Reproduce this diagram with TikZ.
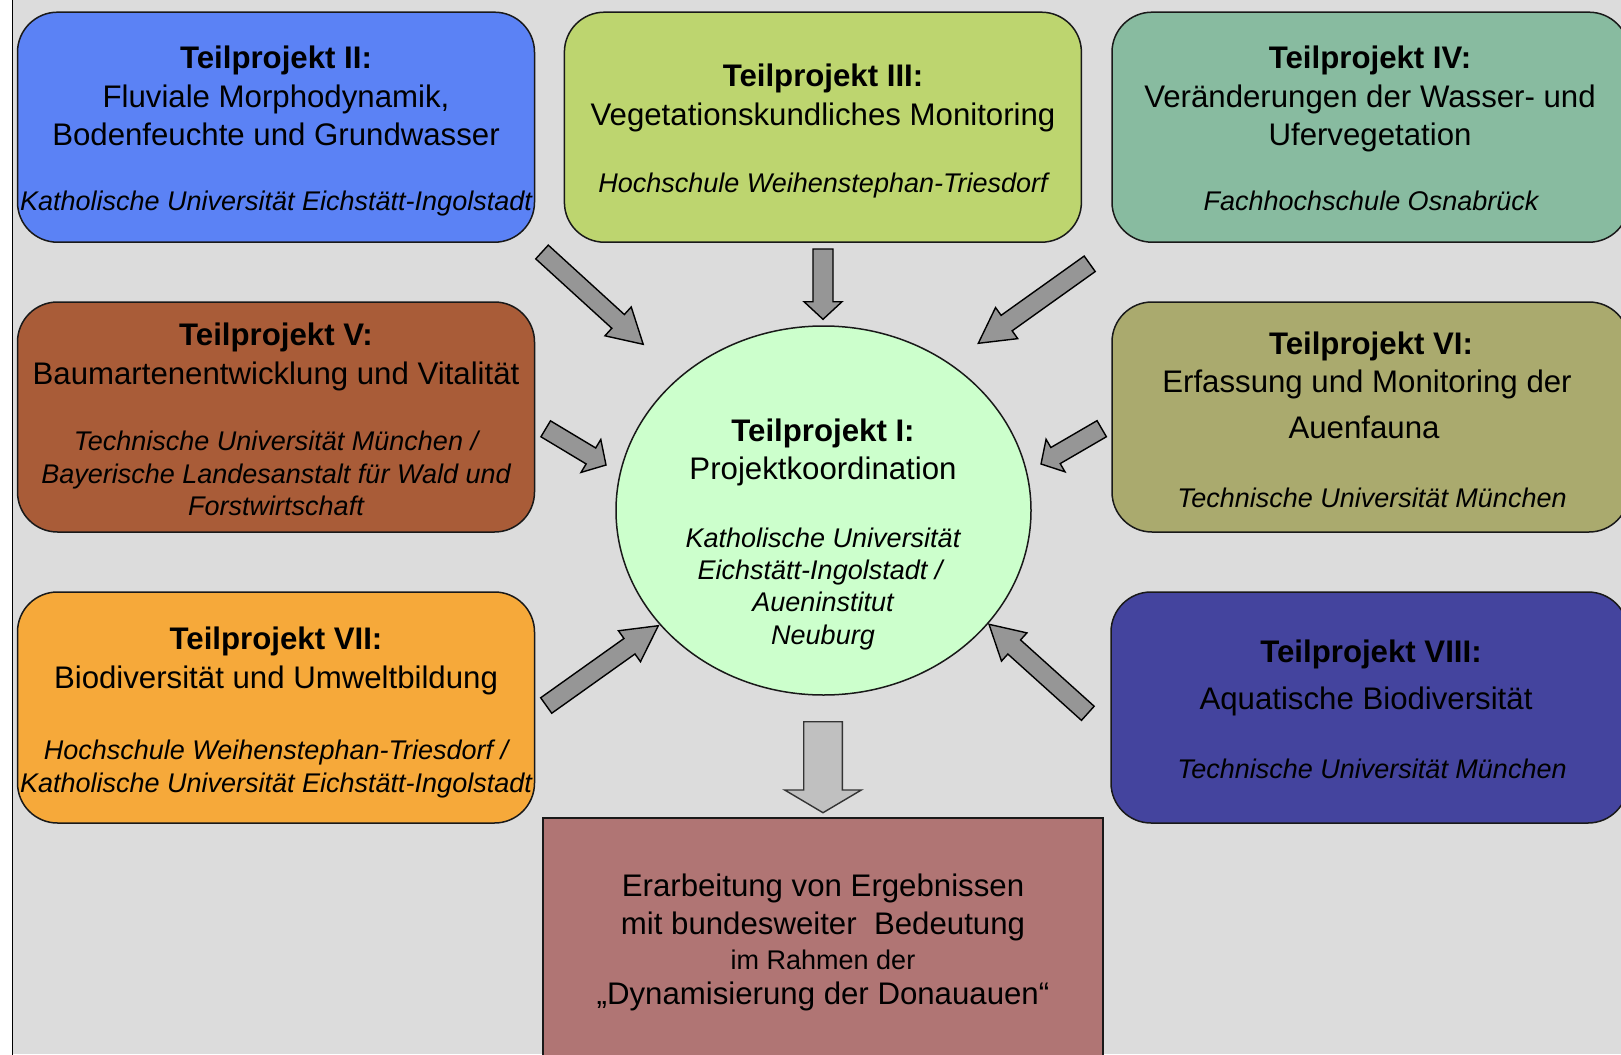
\documentclass[tikz,border=0pt]{standalone}
\usepackage{fontspec}
\setmainfont{Liberation Sans}
\usetikzlibrary{shapes.geometric,calc}
\definecolor{bgc}{RGB}{220,220,220}
\definecolor{cII}{RGB}{91,130,245}
\definecolor{cIII}{RGB}{189,213,111}
\definecolor{cIV}{RGB}{136,187,160}
\definecolor{cV}{RGB}{169,92,56}
\definecolor{cVI}{RGB}{170,170,110}
\definecolor{cVII}{RGB}{246,169,58}
\definecolor{cVIII}{RGB}{68,68,158}
\definecolor{cI}{RGB}{204,255,204}
\definecolor{cRes}{RGB}{176,117,116}
\definecolor{arrg}{RGB}{150,150,150}
\definecolor{arrl}{RGB}{192,192,192}
\tikzset{
  proj/.style={draw=black!90, line width=1.5pt, rounded corners=40pt,
    minimum width=517pt, minimum height=230pt, inner sep=0pt},
  ttl/.style={font=\bfseries\fontsize{31.2}{37}\selectfont, anchor=base, inner sep=0pt},
  txt/.style={font=\fontsize{31.2}{37}\selectfont, anchor=base, inner sep=0pt},
  itl/.style={font=\itshape\fontsize{27}{32}\selectfont, anchor=base, inner sep=0pt},
  sml/.style={font=\fontsize{27}{32}\selectfont, anchor=base, inner sep=0pt},
  barrow/.style={draw=black, line width=1.4pt, fill=arrg, line join=miter},
  larrow/.style={draw=black!80, line width=1.4pt, fill=arrl, line join=miter}
}
% #1 tail, #2 tip, #3 shaft half width, #4 head half width, #5 head length, #6 style
\newcommand\blockarr[6]{%
  \coordinate (nk) at ($(#2)!#5!(#1)$);
  \draw[#6] ($(#1)!#3!90:(#2)$) -- ($(nk)!#3!90:(#2)$) -- ($(nk)!#4!90:(#2)$)
    -- (#2) -- ($(nk)!#4!-90:(#2)$) -- ($(nk)!#3!-90:(#2)$)
    -- ($(#1)!#3!-90:(#2)$) -- cycle;
}
\begin{document}
\begin{tikzpicture}[x=1pt,y=-1pt]
\useasboundingbox (0,0) rectangle (1621,1054);
\clip (0,0) rectangle (1621,1054);
\fill[white] (0,0) rectangle (1621,1054);
\fill[bgc] (12.5,0) rectangle (1621,1054);
\draw[line width=1.8pt] (12.5,-5) -- (12.5,1060);

% boxes
\node[proj, fill=cII]   (p2) at (276,127.2) {};
\node[proj, fill=cIII]  (p3) at (822.9,127.2) {};
\node[proj, fill=cIV]   (p4) at (1370.5,127.2) {};
\node[proj, fill=cV]    (p5) at (276,417) {};
\node[proj, fill=cVI]   (p6) at (1370.5,417) {};
\node[proj, fill=cVII, minimum height=231pt]  (p7) at (276,707.5) {};
\node[proj, fill=cVIII, minimum height=231pt] (p8) at (1369.5,707.5) {};
\node[draw=black!90, line width=1.5pt, fill=cI, ellipse, minimum width=415pt,
      minimum height=369pt, inner sep=0pt] (p1) at (823.5,510.5) {};
\node[draw=black!90, line width=1.5pt, fill=cRes, rectangle, minimum width=560pt,
      minimum height=252pt, inner sep=0pt] (res) at (823,944) {};

% texts box II
\node[ttl] (t2a) at (276,69) {Teilprojekt II:};
\node[txt] (t2b) at (276,107) {Fluviale Morphodynamik,};
\node[txt] (t2c) at (276,145) {Bodenfeuchte und Grundwasser};
\node[itl] (t2d) at (276,210) {Katholische Universität Eichstätt-Ingolstadt};
% box III
\node[ttl] (t3a) at (823,87) {Teilprojekt III:};
\node[txt] (t3b) at (823,125.5) {Vegetationskundliches Monitoring};
\node[itl] (t3c) at (823,192.5) {Hochschule Weihenstephan-Triesdorf};
% box IV
\node[ttl] (t4a) at (1370,69) {Teilprojekt IV:};
\node[txt] (t4b) at (1370,107) {Veränderungen der Wasser- und};
\node[txt] (t4c) at (1370,145) {Ufervegetation};
\node[itl] (t4d) at (1371,210) {Fachhochschule Osnabrück};
% box V
\node[ttl] (t5a) at (276,345.5) {Teilprojekt V:};
\node[txt] (t5b) at (276,384) {Baumartenentwicklung und Vitalität};
\node[itl] (t5c) at (276,450.5) {Technische Universität München /};
\node[itl] (t5d) at (276,483) {Bayerische Landesanstalt für Wald und};
\node[itl] (t5e) at (276,515) {Forstwirtschaft};
% box VI
\node[ttl] (t6a) at (1371,354.5) {Teilprojekt VI:};
\node[txt] (t6b) at (1367,392.5) {Erfassung und Monitoring der};
\node[txt] (t6c) at (1364,438) {Auenfauna};
\node[itl] (t6d) at (1372,507) {Technische Universität München};
% box VII
\node[ttl] (t7a) at (276,649.5) {Teilprojekt VII:};
\node[txt] (t7b) at (276,688) {Biodiversität und Umweltbildung};
\node[itl] (t7c) at (276,759.5) {Hochschule Weihenstephan-Triesdorf /};
\node[itl] (t7d) at (276,792) {Katholische Universität Eichstätt-Ingolstadt};
% box VIII
\node[ttl] (t8a) at (1371,662.5) {Teilprojekt VIII:};
\node[txt] (t8b) at (1366,709) {Aquatische Biodiversität};
\node[itl] (t8c) at (1372,778) {Technische Universität München};
% ellipse
\node[ttl] (t1a) at (823,441.5) {Teilprojekt I:};
\node[txt] (t1b) at (823,479.5) {Projektkoordination};
\node[itl] (t1c) at (823,547) {Katholische Universität};
\node[itl] (t1d) at (820,579.8) {Eichstätt-Ingolstadt /};
\node[itl] (t1e) at (823,611.5) {Aueninstitut};
\node[itl] (t1f) at (823,644.5) {Neuburg};
% result box
\node[txt] (tra) at (823,896.5) {Erarbeitung von Ergebnissen};
\node[txt] (trb) at (823,934.5) {mit bundesweiter\ \ Bedeutung};
\node[sml] (trc) at (823,969) {im Rahmen der};
\node[txt] (trd) at (823,1004) {„Dynamisierung der Donauauen“};

% arrow end points
\coordinate (a2s) at (542,252);     \coordinate (a2e) at (643.2,344.3);
\coordinate (a3s) at (823,249);     \coordinate (a3e) at (823,319.3);
\coordinate (a4s) at (1089.7,263.8); \coordinate (a4e) at (978.3,343.3);
\coordinate (a5s) at (545.7,428.8); \coordinate (a5e) at (606,465);
\coordinate (a6s) at (1101.7,428.7); \coordinate (a6e) at (1041,464);
\coordinate (a7s) at (546.2,705.5); \coordinate (a7e) at (658.3,625.7);
\coordinate (a8s) at (1087.8,713.3); \coordinate (a8e) at (989,624.3);
\coordinate (a9s) at (823,721.7);   \coordinate (a9e) at (823,812.7);

\blockarr{a2s}{a2e}{9.3pt}{19.5pt}{34pt}{barrow}
\blockarr{a3s}{a3e}{10pt}{19pt}{17.6pt}{barrow}
\blockarr{a4s}{a4e}{9.5pt}{19.1pt}{34.8pt}{barrow}
\blockarr{a5s}{a5e}{9.3pt}{19.2pt}{17.6pt}{barrow}
\blockarr{a6s}{a6e}{9.3pt}{18.8pt}{16.8pt}{barrow}
\blockarr{a7s}{a7e}{9.5pt}{19pt}{35.4pt}{barrow}
\blockarr{a8s}{a8e}{9.5pt}{19pt}{33.9pt}{barrow}
\blockarr{a9s}{a9e}{19.3pt}{38.3pt}{22.7pt}{larrow}
\end{tikzpicture}
\end{document}
